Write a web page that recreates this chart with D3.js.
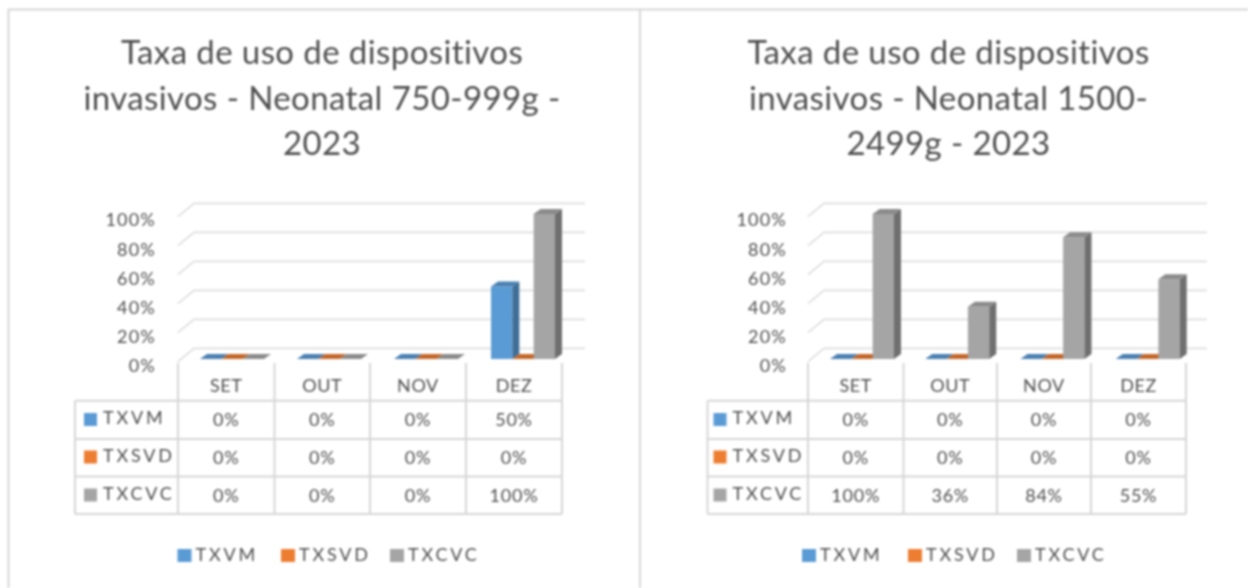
<!DOCTYPE html>
<html><head><meta charset="utf-8">
<script src="https://cdn.jsdelivr.net/npm/d3@7/dist/d3.min.js"></script>
<style>
html,body{margin:0;padding:0;background:#fff}
svg{display:block;filter:blur(0.9px)}
text{font-family:Lato,"Open Sans",sans-serif;fill:#4f4f4f}
</style></head><body>
<svg id="c" width="1248" height="588"></svg>
<script>
const categories = ["SET","OUT","NOV","DEZ"];
const seriesNames = ["TXVM","TXSVD","TXCVC"];
const yTicks = [0,0.2,0.4,0.6,0.8,1];
const leftTitle = ["Taxa de uso de dispositivos","invasivos - Neonatal 750-999g -","2023"];
const rightTitle = ["Taxa de uso de dispositivos","invasivos - Neonatal 1500-","2499g - 2023"];
const leftTXVM = [0,0,0,0.5];
const leftTXSVD = [0,0,0,0];
const leftTXCVC = [0,0,0,1];
const rightTXVM = [0,0,0,0];
const rightTXSVD = [0,0,0,0];
const rightTXCVC = [1,0.36,0.84,0.55];
const seriesColors = ["#5b9bd5","#ed7d31","#a5a5a5"];
const sideColors = ["#3f6d97","#a9581f","#6f6f6f"];
const topColors = ["#4a80b2","#c4672a","#8b8b8b"];

const svg = d3.select("#c");
const fmt = d3.format(".0%");
const grid = "#dedede", line = "#d6d6d6";

// panel frame
svg.append("path").attr("d","M8.5,588V9.5H1248").attr("fill","none").attr("stroke",line).attr("stroke-width",2);
svg.append("line").attr("x1",640).attr("x2",640).attr("y1",9).attr("y2",588).attr("stroke",line).attr("stroke-width",2);

function chart(cfg){
  const g = svg.append("g");
  const t = g.append("text").attr("text-anchor","middle").style("font-size","33px").style("letter-spacing","0.4px");
  cfg.title.forEach((s,i)=>t.append("tspan").attr("x",cfg.titleX).attr("y",64+i*45.5).text(s));

  const y = d3.scaleLinear().domain([0,1]).range([0,145]);
  // gridlines: slanted floor edge + back wall
  const gl = g.append("g").attr("fill","none").attr("stroke",grid).attr("stroke-width",1.7);
  yTicks.forEach(v=>{
    const fy = 361.7-y(v), by = 348.3-y(v);
    gl.append("path").attr("d",`M${cfg.colX[1]},${fy}L${cfg.colX[1]+16},${by}H${cfg.gridEnd}`);
  });
  // y axis labels
  const ya = d3.scaleLinear().domain([0,1]).range([365.5,219.5]);
  const ax = g.append("g").attr("transform",`translate(${cfg.labelX},0)`)
    .call(d3.axisLeft(ya).tickValues(yTicks).tickFormat(fmt).tickSize(0).tickPadding(0));
  ax.select(".domain").remove();
  ax.selectAll("text").style("font-size","18px").style("letter-spacing","1.2px").attr("dy","0.35em");

  // bars
  const xCat = d3.scalePoint().domain(categories).range(cfg.barRange);
  const xSer = d3.scaleBand().domain(seriesNames).range([0,64]);
  const dx=7, dy=5, base=359;
  const w = xSer.bandwidth();
  categories.forEach((c,ci)=>{
    cfg.values.forEach((vals,si)=>{
      const x0 = xCat(c)+xSer(seriesNames[si]);
      const h = y(vals[ci]), top = base-h;
      const b = g.append("g");
      if(h>0){
        b.append("rect").attr("x",x0).attr("y",top).attr("width",w).attr("height",h).attr("fill",seriesColors[si]);
        b.append("path").attr("d",`M${x0+w},${top}l${dx},${-dy}V${base-dy}l${-dx},${dy}Z`).attr("fill",sideColors[si]);
      }
      b.append("path").attr("d",`M${x0},${top}l${dx},${-dy}h${w}l${-dx},${dy}Z`).attr("fill",topColors[si]);
    });
  });

  // data table
  const rows=[400.7,439,476.5,514], hdr=363;
  const last = cfg.colX[cfg.colX.length-1];
  const tb = g.append("g").attr("stroke",line).attr("stroke-width",2).attr("fill","none");
  cfg.colX.forEach((x,i)=>tb.append("line").attr("x1",x).attr("x2",x).attr("y1",i===0?rows[0]:hdr).attr("y2",rows[3]));
  rows.forEach(r=>tb.append("line").attr("x1",cfg.colX[0]).attr("x2",last).attr("y1",r).attr("y2",r));

  const ts = "18px";
  categories.forEach((c,i)=>{
    const cx=(cfg.colX[i+1]+cfg.colX[i+2])/2;
    g.append("text").attr("x",cx).attr("y",386).attr("dy","0.35em").attr("text-anchor","middle")
      .style("font-size",ts).style("letter-spacing","0.6px").text(c);
  });
  const rowY=[420,457.5,495.5];
  seriesNames.forEach((s,si)=>{
    g.append("rect").attr("x",cfg.swatchX).attr("y",rowY[si]-7).attr("width",13).attr("height",13).attr("fill",seriesColors[si]);
    g.append("text").attr("x",cfg.swatchX+19).attr("y",rowY[si]-2).attr("dy","0.35em")
      .style("font-size",ts).style("letter-spacing","2.8px").text(s);
    cfg.values[si].forEach((v,ci)=>{
      const cx=(cfg.colX[ci+1]+cfg.colX[ci+2])/2;
      g.append("text").attr("x",cx).attr("y",rowY[si]).attr("dy","0.35em").attr("text-anchor","middle")
        .style("font-size",ts).style("letter-spacing","0.8px").text(fmt(v));
    });
  });

  // legend
  seriesNames.forEach((s,si)=>{
    g.append("rect").attr("x",cfg.legendX[si]).attr("y",549).attr("width",14).attr("height",13).attr("fill",seriesColors[si]);
    g.append("text").attr("x",cfg.legendX[si]+18).attr("y",554.5).attr("dy","0.35em")
      .style("font-size",ts).style("letter-spacing","2.8px").text(s);
  });
}

chart({title:leftTitle,titleX:322,values:[leftTXVM,leftTXSVD,leftTXCVC],
  colX:[75,178,274.5,370,466,562],gridEnd:585,labelX:156,barRange:[200,491],swatchX:84,legendX:[177.5,281,390]});
chart({title:rightTitle,titleX:948.5,values:[rightTXVM,rightTXSVD,rightTXCVC],
  colX:[707.5,808,903.5,997,1091,1186],gridEnd:1207,labelX:787,barRange:[830,1115.7],swatchX:713.5,legendX:[802,908,1017]});
</script>
</body></html>
